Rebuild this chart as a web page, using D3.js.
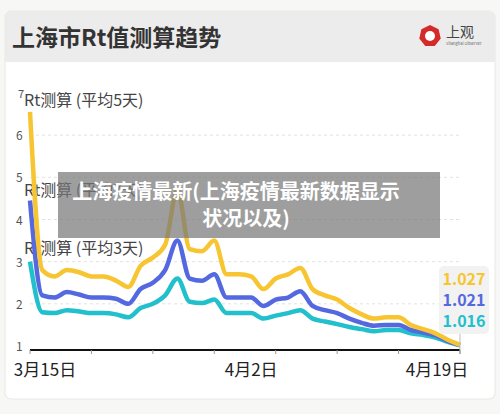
<!DOCTYPE html>
<html><head><meta charset="utf-8">
<script src="https://cdn.jsdelivr.net/npm/d3@7"></script>
<style>body{margin:0;background:#f7f7f5;font-family:"Noto Sans CJK SC","Noto Sans",sans-serif}</style>
</head><body><svg id="c" width="500" height="414"></svg>
<script>
const days = d3.range(36);
const yellow = [6.55,2.8,2.65,2.8,2.75,2.65,2.65,2.55,2.4,2.9,3.1,3.4,4.7,3.3,3.25,3.5,2.7,2.7,2.65,2.35,2.6,2.7,2.85,2.35,2.2,2.1,1.9,1.75,1.65,1.68,1.68,1.5,1.4,1.3,1.15,1.027];
const blue = [4.45,2.2,2.15,2.28,2.22,2.15,2.15,2.12,2.0,2.35,2.5,2.8,3.5,2.6,2.55,2.7,2.15,2.15,2.15,1.95,2.1,2.15,2.3,1.95,1.85,1.78,1.65,1.55,1.48,1.5,1.5,1.38,1.32,1.25,1.12,1.021];
const teal = [3.0,1.8,1.78,1.85,1.82,1.78,1.78,1.75,1.68,1.9,2.0,2.2,2.6,2.05,2.02,2.1,1.78,1.78,1.78,1.65,1.72,1.78,1.85,1.65,1.58,1.52,1.45,1.4,1.35,1.38,1.38,1.3,1.26,1.2,1.1,1.016];
const yTicks = [1,2,3,4,5,6,7];
const xTickLabels = ["3月15日","4月2日","4月19日"];
const xTickDays = [0,18,35];
const seriesNames = ["Rt测算 (平均5天)","Rt测算 (平均7天)","Rt测算 (平均3天)"];
const colors = ["#f7c531","#5468e0","#22bfcc"];

const svg = d3.select("#c");
svg.append("rect").attr("x",5).attr("y",11).attr("width",490).attr("height",388).attr("rx",6).attr("fill","#fff").attr("stroke","#e8e8e2");
svg.append("path").attr("d","M5,62 V17 a6,6 0 0 1 6,-6 H489 a6,6 0 0 1 6,6 V62 Z").attr("fill","#ececec");
svg.append("text").attr("x",12).attr("y",46).attr("font-size",23).attr("font-weight","bold").attr("fill","#333").text("上海市Rt值测算趋势");
const lg = svg.append("g").attr("transform","translate(430,36)");
lg.append("path").attr("d",d3.range(7).map((i)=>{const a=i/7*2*Math.PI-Math.PI/2;return (i?"L":"M")+(11*Math.cos(a))+","+(11*Math.sin(a));}).join("")+"Z").attr("fill","#d42a2a");
lg.append("circle").attr("r",5).attr("fill","#fff");
lg.append("text").attr("x",16).attr("y",1).attr("font-size",14).attr("fill","#444").text("上观");
lg.append("text").attr("x",16).attr("y",9).attr("font-size",4).attr("fill","#666").text("Shanghai Observer");

const x = d3.scaleLinear().domain([0,35]).range([30,460]);
const y = d3.scaleLinear().domain([1,7]).range([346,93]);
const g = svg.append("g");
yTicks.forEach(t=>{
  if(t>1 && t<7) g.append("line").attr("x1",30).attr("x2",460).attr("y1",y(t)).attr("y2",y(t)).attr("stroke","#e2e2e2").attr("stroke-dasharray","3,3");
  g.append("text").attr("x",t===7?18:16).attr("y",y(t)+5).attr("font-size",t===7?11:12).attr("fill","#555").text(t);
});
[[seriesNames[0],106],[seriesNames[1],196],[seriesNames[2],254]].forEach(([s,yy])=>
  g.append("text").attr("x",24).attr("y",yy).attr("font-size",16).attr("fill","#444").text(s));
const line = d3.line().x((d,i)=>x(i)).y(d=>y(d)).curve(d3.curveMonotoneX);
[teal,blue,yellow].forEach((s,k)=>{
  g.append("path").datum(s).attr("d",line).attr("fill","none").attr("stroke",colors[2-k]).attr("stroke-width",4.5).attr("stroke-linejoin","round");
});
g.append("line").attr("x1",30).attr("x2",460).attr("y1",350).attr("y2",350).attr("stroke","#111").attr("stroke-width",2);
d3.range(0,36,5).concat([35]).forEach(d=>g.append("line").attr("x1",x(d)).attr("x2",x(d)).attr("y1",350).attr("y2",354).attr("stroke","#999"));
xTickLabels.forEach((t,i)=>g.append("text").attr("x",x(xTickDays[i])+(i===0?15:i===2?-23:0)).attr("y",376).attr("text-anchor","middle").attr("font-size",17).attr("fill","#222").text(t));
g.append("line").attr("x1",460).attr("x2",460).attr("y1",332).attr("y2",350).attr("stroke","#bbb");
g.append("rect").attr("x",439).attr("y",266).attr("width",50).attr("height",68).attr("rx",5).attr("fill","#f2f2f2");
[yellow,blue,teal].forEach((s,k)=>g.append("text").attr("x",464).attr("y",285+k*21).attr("text-anchor","middle").attr("font-size",16).attr("font-weight","bold").attr("fill",colors[k]).text(s[35].toFixed(3)));
svg.append("rect").attr("x",58).attr("y",172).attr("width",382).attr("height",66).attr("fill","rgba(120,120,120,0.72)");
svg.append("text").attr("x",236).attr("y",199).attr("text-anchor","middle").attr("font-size",20).attr("font-weight","bold").attr("fill","#fff").text("上海疫情最新(上海疫情最新数据显示");
svg.append("text").attr("x",246).attr("y",226).attr("text-anchor","middle").attr("font-size",20).attr("font-weight","bold").attr("fill","#fff").text("状况以及)");
</script></body></html>
